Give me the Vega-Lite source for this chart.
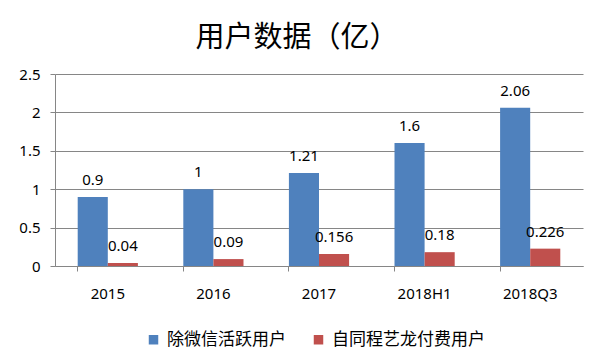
{
  "$schema": "https://vega.github.io/schema/vega-lite/v6.json",
  "width": 528,
  "height": 192,
  "autosize": {"type": "none"},
  "padding": {"left": 55, "top": 74, "right": 20, "bottom": 97},
  "background": "white",
  "title": {
    "text": "用户数据（亿）",
    "font": "Noto Sans CJK SC",
    "fontSize": 29,
    "fontWeight": "normal",
    "color": "#000000",
    "anchor": "middle",
    "dx": -22,
    "offset": 14
  },
  "data": {
    "values": [
      {"period": "2015", "series": "除微信活跃用户", "value": 0.9},
      {"period": "2015", "series": "自同程艺龙付费用户", "value": 0.04},
      {"period": "2016", "series": "除微信活跃用户", "value": 1},
      {"period": "2016", "series": "自同程艺龙付费用户", "value": 0.09},
      {"period": "2017", "series": "除微信活跃用户", "value": 1.21},
      {"period": "2017", "series": "自同程艺龙付费用户", "value": 0.156},
      {"period": "2018H1", "series": "除微信活跃用户", "value": 1.6},
      {"period": "2018H1", "series": "自同程艺龙付费用户", "value": 0.18},
      {"period": "2018Q3", "series": "除微信活跃用户", "value": 2.06},
      {"period": "2018Q3", "series": "自同程艺龙付费用户", "value": 0.226}
    ]
  },
  "encoding": {
    "x": {
      "field": "period",
      "type": "nominal",
      "sort": ["2015", "2016", "2017", "2018H1", "2018Q3"],
      "scale": {"paddingInner": 0.43, "paddingOuter": 0.215},
      "axis": {
        "title": null,
        "labelAngle": 0,
        "bandPosition": 0,
        "labelFont": "Noto Sans",
        "labelFontSize": 15,
        "labelColor": "#000000",
        "labelPadding": 15,
        "tickSize": 5,
        "tickColor": "#868686",
        "domainColor": "#868686",
        "grid": false
      }
    },
    "xOffset": {
      "field": "series",
      "type": "nominal",
      "sort": ["除微信活跃用户", "自同程艺龙付费用户"],
      "scale": {"paddingInner": 0, "paddingOuter": 0}
    },
    "y": {
      "field": "value",
      "type": "quantitative",
      "scale": {"domain": [0, 2.5], "nice": false},
      "axis": {
        "title": null,
        "values": [0, 0.5, 1, 1.5, 2, 2.5],
        "format": "~g",
        "labelFont": "Noto Sans",
        "labelFontSize": 15,
        "labelColor": "#000000",
        "labelPadding": 10,
        "tickSize": 5,
        "tickColor": "#868686",
        "domainColor": "#868686",
        "gridColor": "#868686",
        "grid": true
      }
    }
  },
  "layer": [
    {
      "mark": {"type": "bar"},
      "encoding": {
        "color": {
          "field": "series",
          "type": "nominal",
          "scale": {
            "domain": ["除微信活跃用户", "自同程艺龙付费用户"],
            "range": ["#4F81BD", "#C0504D"]
          },
          "legend": {
            "title": null,
            "orient": "none",
            "direction": "horizontal",
            "legendX": 90,
            "legendY": 257,
            "symbolType": "square",
            "symbolSize": 90,
            "symbolStrokeWidth": 0,
            "labelFont": "Noto Sans CJK SC",
            "labelFontSize": 17,
            "labelColor": "#000000",
            "labelOffset": 5,
            "columnPadding": 24
          }
        }
      }
    },
    {
      "mark": {
        "type": "text",
        "baseline": "middle",
        "dy": -17,
        "font": "Noto Sans",
        "fontSize": 15,
        "color": "#000000"
      },
      "encoding": {
        "text": {"field": "value", "type": "quantitative", "format": "~g"}
      }
    }
  ],
  "config": {
    "view": {"stroke": null}
  }
}
